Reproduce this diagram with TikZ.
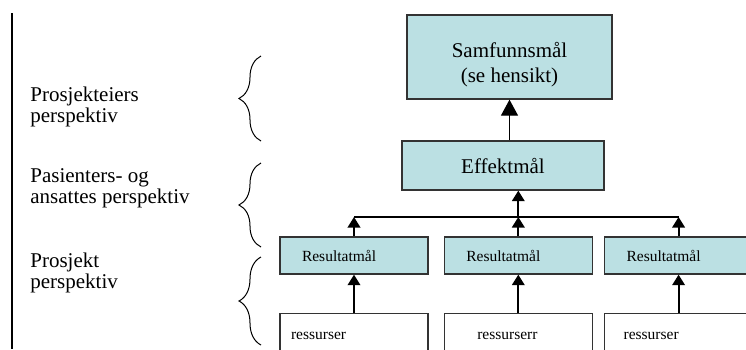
\documentclass[tikz,border=0pt]{standalone}
\usepackage{fontspec}
\setmainfont{Liberation Serif}
\usetikzlibrary{positioning,arrows.meta,decorations.pathreplacing}
\definecolor{maalfarge}{HTML}{BBE0E3}
\tikzset{
	maal/.style={rectangle, draw=black!80, line width=0.65pt, fill=maalfarge,
		font=\fontsize{10.5}{12.5}\selectfont, align=center},
	resultat/.style={rectangle, draw=black!80, line width=0.65pt, fill=maalfarge,
		font=\fontsize{7.75}{9}\selectfont, minimum width=74pt, minimum height=18.5pt,
		text width=52pt, inner xsep=11pt, align=left},
	ressurs/.style={rectangle, draw=black!80, line width=0.65pt, fill=white,
		font=\fontsize{7.75}{9}\selectfont, minimum width=74pt, minimum height=23pt,
		text width=63pt, inner xsep=5.5pt, align=left},
	perspektiv/.style={font=\fontsize{10.5}{10.5}\selectfont, align=left,
		anchor=base west, inner sep=0pt},
	pil/.style={-{Triangle[width=6.25pt,length=5.25pt]}, line width=1pt},
	storpil/.style={-{Triangle[width=8.5pt,length=8pt]}, line width=0.65pt},
	krok/.style={decorate, decoration={brace, amplitude=11pt}, line width=0.5pt}
}

\begin{document}
\begin{tikzpicture}[x=0.5pt, y=-0.5pt]
	\clip (0,0) rectangle (746,349);
	
	% perspektiver til venstre
	\draw[line width=1pt] (12,13) -- (12,349);
	\node[perspektiv] (eier) at (30,122) {Prosjekteiers\\perspektiv};
	\node[perspektiv] (pasient) at (30,203) {Pasienters- og\\ansattes perspektiv};
	\node[perspektiv] (prosjekt) at (30,288) {Prosjekt\\perspektiv};
	\draw[krok] (261,141) -- (261,56);
	\draw[krok] (261,247) -- (261,163);
	\draw[krok] (261,345) -- (261,257);
	
	% maal
	\node[maal, minimum width=102.5pt, minimum height=42pt, text height=25pt, text depth=0pt]
		(samf) at (509.5,57) {Samfunnsmål\\(se hensikt)};
	\node[maal, minimum width=101pt, minimum height=24.5pt] (effekt) at (503,165.5) {Effektmål};
	
	\node[resultat] (res1) at (354,255.5) {Resultatmål};
	\node[resultat, right=7.5pt of res1] (res2) {Resultatmål};
	\node[resultat, right=5.5pt of res2] (res3) {Resultatmål};
	
	\node[ressurs, below=19pt of res1] (rs1) {ressurser};
	\node[ressurs, below=19pt of res2] (rs2) {\hspace*{11pt}ressurserr};
	\node[ressurs, below=19pt of res3] (rs3) {\hspace*{4pt}ressurser};
	
	% piler
	\coordinate (bar) at (515,217);
	\draw[line width=0.65pt] (res1.north |- bar) -- (res3.north |- bar);
	\foreach \n in {1,2,3}
		\draw[pil] (res\n.north) -- (res\n.north |- bar);
	\draw[pil] (res2.north |- bar) -- (res2.north |- effekt.south);
	\draw[storpil] (samf.south |- effekt.north) -- (samf.south);
	\foreach \n in {1,2,3}
		\draw[pil] (rs\n.north) -- (res\n.south);
\end{tikzpicture}
\end{document}
